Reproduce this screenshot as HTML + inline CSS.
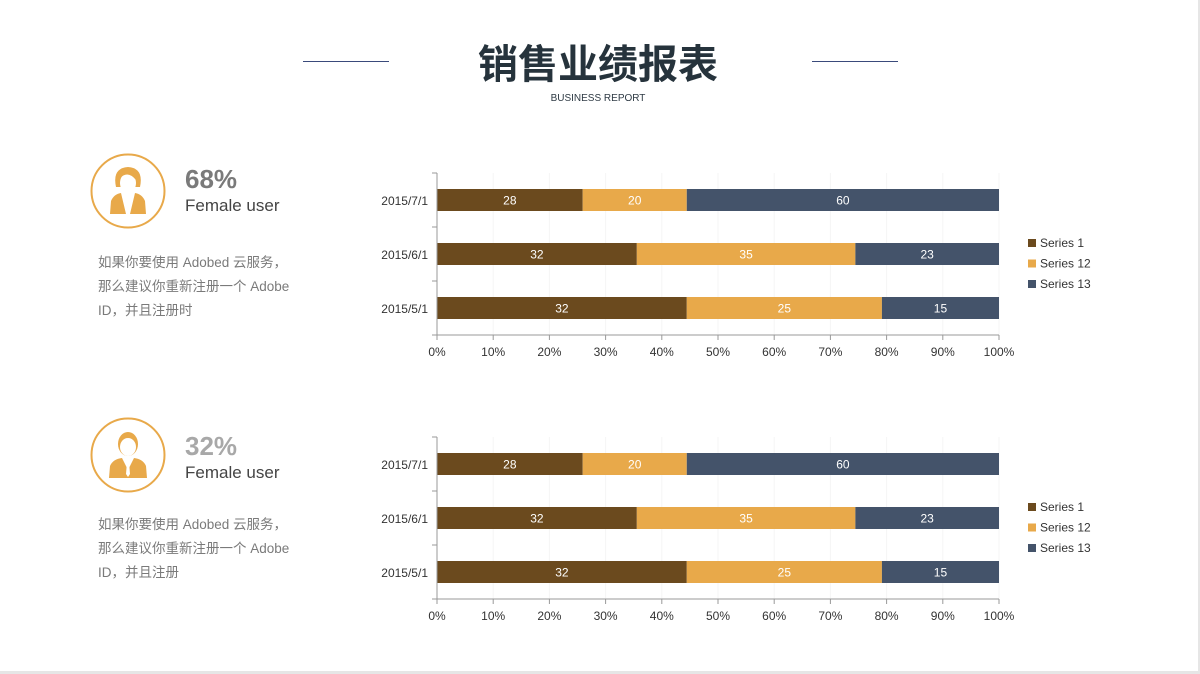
<!DOCTYPE html>
<html><head><meta charset="utf-8"><style>
body{margin:0;width:1200px;height:674px;background:#e6e6e6;overflow:hidden;font-family:"Liberation Sans","Noto Sans CJK SC",sans-serif;}
#slide{position:absolute;left:0;top:0;width:1198px;height:671px;background:#fff;}
.t{position:absolute;white-space:nowrap;}
</style></head><body>
<div id="slide">
<div class="t" style="left:303px;top:61px;width:86px;height:1px;background:#3a4a7b"></div>
<div class="t" style="left:812px;top:61px;width:86px;height:1px;background:#3a4a7b"></div>
<div class="t" style="left:398px;width:400px;text-align:center;top:35px;font-size:40px;font-weight:bold;color:#26333c;font-family:'Noto Sans CJK SC',sans-serif;line-height:52px">销售业绩报表</div>
<div class="t" style="left:498px;width:200px;text-align:center;top:93px;font-size:10px;color:#2e3a44">BUSINESS REPORT</div>

<svg class="t" style="left:0;top:0" width="1200" height="674">
<g>
<circle cx="128" cy="191" r="36.5" fill="none" stroke="#e8a94a" stroke-width="2"/>
<path d="M116 187 Q112 168 128 167 Q144 168 140 187 Z" fill="#e8a94a"/>
<ellipse cx="128" cy="183" rx="8" ry="10" fill="#fff"/>
<path d="M120 178 Q128 170 136 180 L136 176 Q128 168 120 176Z" fill="#e8a94a"/>
<path d="M110 214 L111 201 Q114 194 121 193 L126 214 Z M146 214 L145 201 Q142 194 135 193 L130 214Z" fill="#e8a94a"/>
</g>
<g>
<circle cx="128" cy="455" r="36.5" fill="none" stroke="#e8a94a" stroke-width="2"/>
<ellipse cx="128" cy="444" rx="10" ry="12" fill="#e8a94a"/>
<ellipse cx="128" cy="447" rx="8" ry="9" fill="#fff"/>
<path d="M109 478 L110 466 Q113 459 122 458 L128 470 L134 458 Q143 459 146 466 L147 478Z" fill="#e8a94a"/>
<path d="M127 462 L129 462 L130 474 L128 477 L126 474Z" fill="#fff"/>
</g>
</svg>

<div class="t" style="left:185px;top:164px;font-size:26px;font-weight:bold;color:#7a7a7a">68%</div>
<div class="t" style="left:185px;top:196px;font-size:17px;color:#444">Female user</div>
<div class="t" style="left:98px;top:251px;font-size:13.5px;line-height:24px;color:#7a7a7a">如果你要使用 Adobed 云服务，<br>那么建议你重新注册一个 Adobe<br>ID，并且注册时</div>

<div class="t" style="left:185px;top:431px;font-size:26px;font-weight:bold;color:#a8a8a8">32%</div>
<div class="t" style="left:185px;top:463px;font-size:17px;color:#444">Female user</div>
<div class="t" style="left:98px;top:513px;font-size:13.5px;line-height:24px;color:#7a7a7a">如果你要使用 Adobed 云服务，<br>那么建议你重新注册一个 Adobe<br>ID，并且注册</div>

<svg id="charts" class="t" style="left:0;top:0" width="1200" height="674"></svg>
</div>
<script>
const categories=["2015/7/1","2015/6/1","2015/5/1"];
const series1=[28,32,32];
const series12=[20,35,25];
const series13=[60,23,15];
const seriesNames=["Series 1","Series 12","Series 13"];
const xTicks=["0%","10%","20%","30%","40%","50%","60%","70%","80%","90%","100%"];
const colors=["#6b4a1e","#e8a94a","#44536a"];
const svg=document.getElementById('charts');
const NS='http://www.w3.org/2000/svg';
function mk(tag,attrs,parent){const e=document.createElementNS(NS,tag);for(const k in attrs)e.setAttribute(k,attrs[k]);parent.appendChild(e);return e;}
function drawChart(top,idx){
  const x0=437,x1=999,bottom=top+162;
  const g=mk('g',{},svg);
  
  
  const xs=p=>x0+(x1-x0)*p;
  const band=(bottom-top)/categories.length;
  for(let i=1;i<xTicks.length;i++){const l=mk('line',{x1:xs(i/10),x2:xs(i/10),y1:top,y2:bottom,stroke:'#f5f5f5'},g);
    }
  const all=[series1,series12,series13];
  categories.forEach((c,i)=>{
    const tot=all.reduce((s,a)=>s+a[i],0);
    const cy=top+band*(i+0.5);
    let acc=0;
    all.forEach((a,k)=>{
      const xa=xs(acc/tot),xb=xs((acc+a[i])/tot);
      const r=mk('rect',{x:xa,y:cy-11,width:xb-xa,height:22,fill:colors[k]},g);
      
      
      const t=mk('text',{x:(xa+xb)/2,y:cy+4.5,'text-anchor':'middle','font-size':12,fill:'#fff'},g);
      t.textContent=a[i];
      
      acc+=a[i];
    });
    const lb=mk('text',{x:428,y:cy+5,'text-anchor':'end','font-size':12,fill:'#333'},g);
    lb.textContent=c;
    
  });
  const ya=mk('line',{x1:x0,x2:x0,y1:top,y2:bottom,stroke:'#999'},g);
  
  for(let i=0;i<=categories.length;i++)mk('line',{x1:x0-5,x2:x0,y1:top+band*i,y2:top+band*i,stroke:'#999'},g);
  const xa=mk('line',{x1:x0,x2:x1,y1:bottom,y2:bottom,stroke:'#999'},g);
  
  xTicks.forEach((t,i)=>{
    mk('line',{x1:xs(i/10),x2:xs(i/10),y1:bottom,y2:bottom+5,stroke:'#999'},g);
    const tx=mk('text',{x:xs(i/10),y:bottom+21,'text-anchor':'middle','font-size':12,fill:'#333'},g);
    tx.textContent=t;
    
  });
  seriesNames.forEach((n,k)=>{
    const ly=top+70+k*20.5;
    const sq=mk('rect',{x:1028,y:ly-4,width:8,height:8,fill:colors[k]},g);
    
    const lt=mk('text',{x:1040,y:ly+4,'font-size':12,fill:'#333'},g);
    lt.textContent=n;
    
  });
}
drawChart(173,1);
drawChart(437,2);
</script>
</body></html>
